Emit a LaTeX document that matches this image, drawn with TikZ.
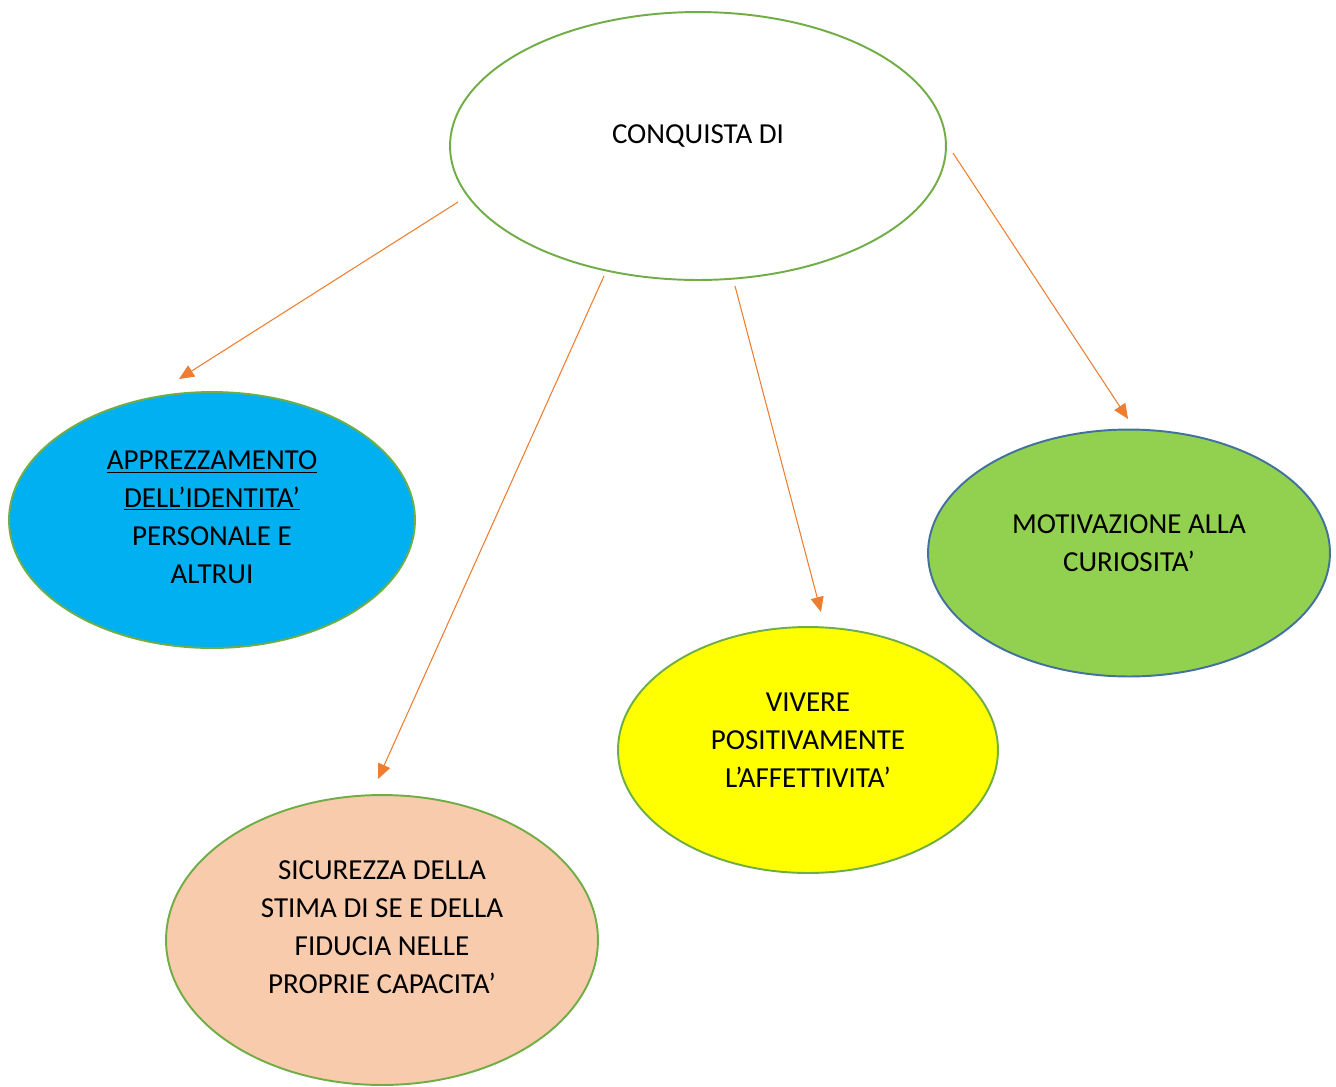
\documentclass[tikz,border=0pt]{standalone}
\usepackage{fontspec}
\setmainfont{Carlito}
\usetikzlibrary{shapes.geometric,arrows.meta}
\definecolor{rimgreen}{HTML}{70AD47}
\definecolor{rimblue}{HTML}{41719C}
\definecolor{linkorange}{HTML}{ED7D31}
\definecolor{skyblue}{HTML}{00B0F0}
\definecolor{peach}{HTML}{F8CBAD}
\definecolor{leafgreen}{HTML}{92D050}
\definecolor{sunyellow}{HTML}{FFFF00}
\tikzset{%
  bubble/.style={
    ellipse,
    draw=rimgreen,
    line width=1.1pt,
    inner sep=0pt
  },
  bubble text/.style={
    align=center,
    inner sep=0pt,
    font=\fontsize{16.5}{21.6}\selectfont
  },
  link/.style={
    draw=linkorange,
    line width=0.6pt,
    -{Triangle[length=0.3cm,width=0.26cm]}
  },
}

\begin{document}
\begin{tikzpicture}[x=0.02cm,y=-0.02cm]
      \useasboundingbox (0,0) rectangle (1336,1086);

      \node[bubble,fill=white,minimum width=9.92cm,minimum height=5.36cm] (top) at (698,146) {};
      \node[bubble,fill=skyblue,minimum width=8.12cm,minimum height=5.12cm] (self) at (212,520) {};
      \node[bubble,fill=peach,minimum width=8.64cm,minimum height=5.8cm] (trust) at (382,940) {};
      \node[bubble,fill=sunyellow,minimum width=7.6cm,minimum height=4.92cm] (affect) at (808,750) {};
      \node[bubble,draw=rimblue,fill=leafgreen,minimum width=8.04cm,minimum height=4.94cm] (curious) at (1129,553) {};

      \node[bubble text] (topText) at (698,136) {CONQUISTA DI};
      \node[bubble text] (selfText) at (212,517) {\underline{APPREZZAMENTO}\\\underline{DELL’IDENTITA’}\\PERSONALE E\\ALTRUI};
      \node[bubble text] (trustText) at (382,927) {SICUREZZA DELLA\\STIMA DI SE E DELLA\\FIDUCIA NELLE\\PROPRIE CAPACITA’};
      \node[bubble text] (affectText) at (808,740) {VIVERE\\POSITIVAMENTE\\L’AFFETTIVITA’};
      \node[bubble text] (curiousText) at (1129,543) {MOTIVAZIONE ALLA\\CURIOSITA’};

      % arrow ends, just off the bubbles
      \coordinate (selfFrom) at ([shift={(-240,56)}]top.center);
      \coordinate (selfTo) at ([shift={(-33,-141)}]self.center);
      \coordinate (trustFrom) at ([shift={(-94,130)}]top.center);
      \coordinate (trustTo) at ([shift={(-4,-161)}]trust.center);
      \coordinate (affectFrom) at ([shift={(37,140)}]top.center);
      \coordinate (affectTo) at ([shift={(13,-138)}]affect.center);
      \coordinate (curiousFrom) at ([shift={(255,7)}]top.center);
      \coordinate (curiousTo) at ([shift={(-1,-134)}]curious.center);

      \draw[link] (selfFrom) -- (selfTo);
      \draw[link] (trustFrom) -- (trustTo);
      \draw[link] (affectFrom) -- (affectTo);
      \draw[link] (curiousFrom) -- (curiousTo);
\end{tikzpicture}
\end{document}
